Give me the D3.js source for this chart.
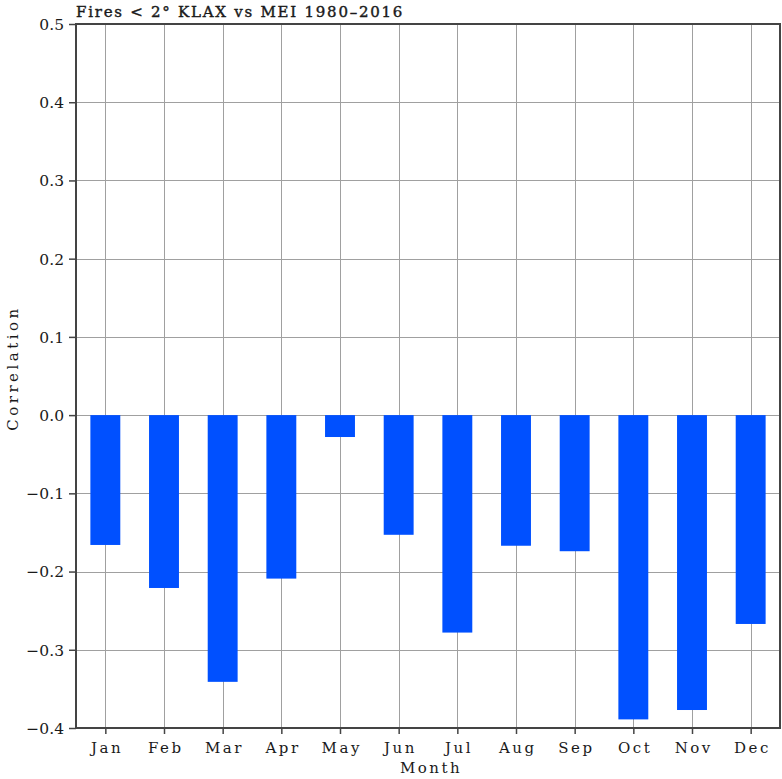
<!DOCTYPE html>
<html>
<head>
<meta charset="utf-8">
<script src="https://cdn.jsdelivr.net/npm/d3@7"></script>
<style>
  body { margin: 0; background: #fff; }
  svg text { font-family: "DejaVu Serif", "Liberation Serif", serif; fill: #1a1a1a; }
</style>
</head>
<body>
<svg id="chart" width="782" height="779"></svg>
<script>
// Monthly correlation of fire counts near KLAX with the MEI index
const months = ["Jan","Feb","Mar","Apr","May","Jun","Jul","Aug","Sep","Oct","Nov","Dec"];
const correlation = [-0.166, -0.221, -0.341, -0.209, -0.028, -0.153, -0.278, -0.167, -0.174, -0.389, -0.377, -0.267];
const yTicks = [0.5, 0.4, 0.3, 0.2, 0.1, 0.0, -0.1, -0.2, -0.3, -0.4];
const titleText = "Fires < 2\u00B0 KLAX vs MEI 1980\u20132016";

const svg = d3.select("#chart");
const plotL = 76, plotR = 780, plotT = 24, plotB = 728;

const x = d3.scaleLinear().domain([0.5, 12.5]).range([plotL, plotR]);
const y = d3.scaleLinear().domain([-0.4, 0.5]).range([plotB, plotT]);
const barW = x(1.51) - x(1);

// grid
const grid = svg.append("g").attr("stroke", "#a0a0a0").attr("stroke-width", 1);
grid.selectAll("line.h").data(yTicks).join("line").attr("class", "h")
  .attr("x1", plotL).attr("x2", plotR)
  .attr("y1", d => Math.round(y(d)) + 0.5).attr("y2", d => Math.round(y(d)) + 0.5);
grid.selectAll("line.v").data(months).join("line").attr("class", "v")
  .attr("y1", plotT).attr("y2", plotB)
  .attr("x1", (d, i) => Math.round(x(i + 1)) + 0.5).attr("x2", (d, i) => Math.round(x(i + 1)) + 0.5);

// bars
svg.append("g").selectAll("rect").data(correlation).join("rect")
  .attr("x", (d, i) => x(i + 1) - barW / 2)
  .attr("width", barW)
  .attr("y", d => y(Math.max(0, d)))
  .attr("height", d => Math.abs(y(d) - y(0)))
  .attr("fill", "#0050ff");

// axes
const yAxis = d3.axisLeft(y).tickValues(yTicks).tickSize(7).tickPadding(5)
  .tickFormat(d => d3.format(".1f")(d).replace("-", "\u2212"));
const gy = svg.append("g").attr("transform", `translate(${plotL},0)`).call(yAxis);
gy.attr("font-family", null).attr("font-size", null);
gy.select(".domain").remove();
gy.selectAll(".tick line").attr("stroke", "#444").attr("stroke-width", 1.5);
gy.selectAll(".tick text").style("font-size", "15.5px").attr("dy", "0.35em");

const xAxis = d3.axisBottom(x).tickValues(d3.range(1, 13)).tickSize(6).tickPadding(8)
  .tickFormat(d => months[d - 1]);
const gx = svg.append("g").attr("transform", `translate(0,${plotB})`).call(xAxis);
gx.attr("font-family", null).attr("font-size", null);
gx.select(".domain").remove();
gx.selectAll(".tick line").attr("stroke", "#444").attr("stroke-width", 1.5);
gx.selectAll(".tick text").style("font-size", "15px").style("letter-spacing", "2.5px")
  .attr("dx", "1.25px");

// frame
svg.append("rect").attr("x", plotL).attr("y", plotT).attr("width", plotR - plotL).attr("height", plotB - plotT)
  .attr("fill", "none").attr("stroke", "#444").attr("stroke-width", 2);

// labels
svg.append("text").attr("x", plotL).attr("y", 17)
  .style("font-size", "15px").style("letter-spacing", "1.75px")
  .style("stroke", "#1a1a1a").style("stroke-width", "0.4px")
  .text(titleText);
svg.append("text").attr("transform", `translate(18,368) rotate(-90)`)
  .attr("text-anchor", "middle").style("font-size", "15px").style("letter-spacing", "3.5px")
  .text("Correlation");
svg.append("text").attr("x", 431).attr("y", 773).attr("text-anchor", "middle")
  .style("font-size", "15px").style("letter-spacing", "2.5px").text("Month");
</script>
</body>
</html>
